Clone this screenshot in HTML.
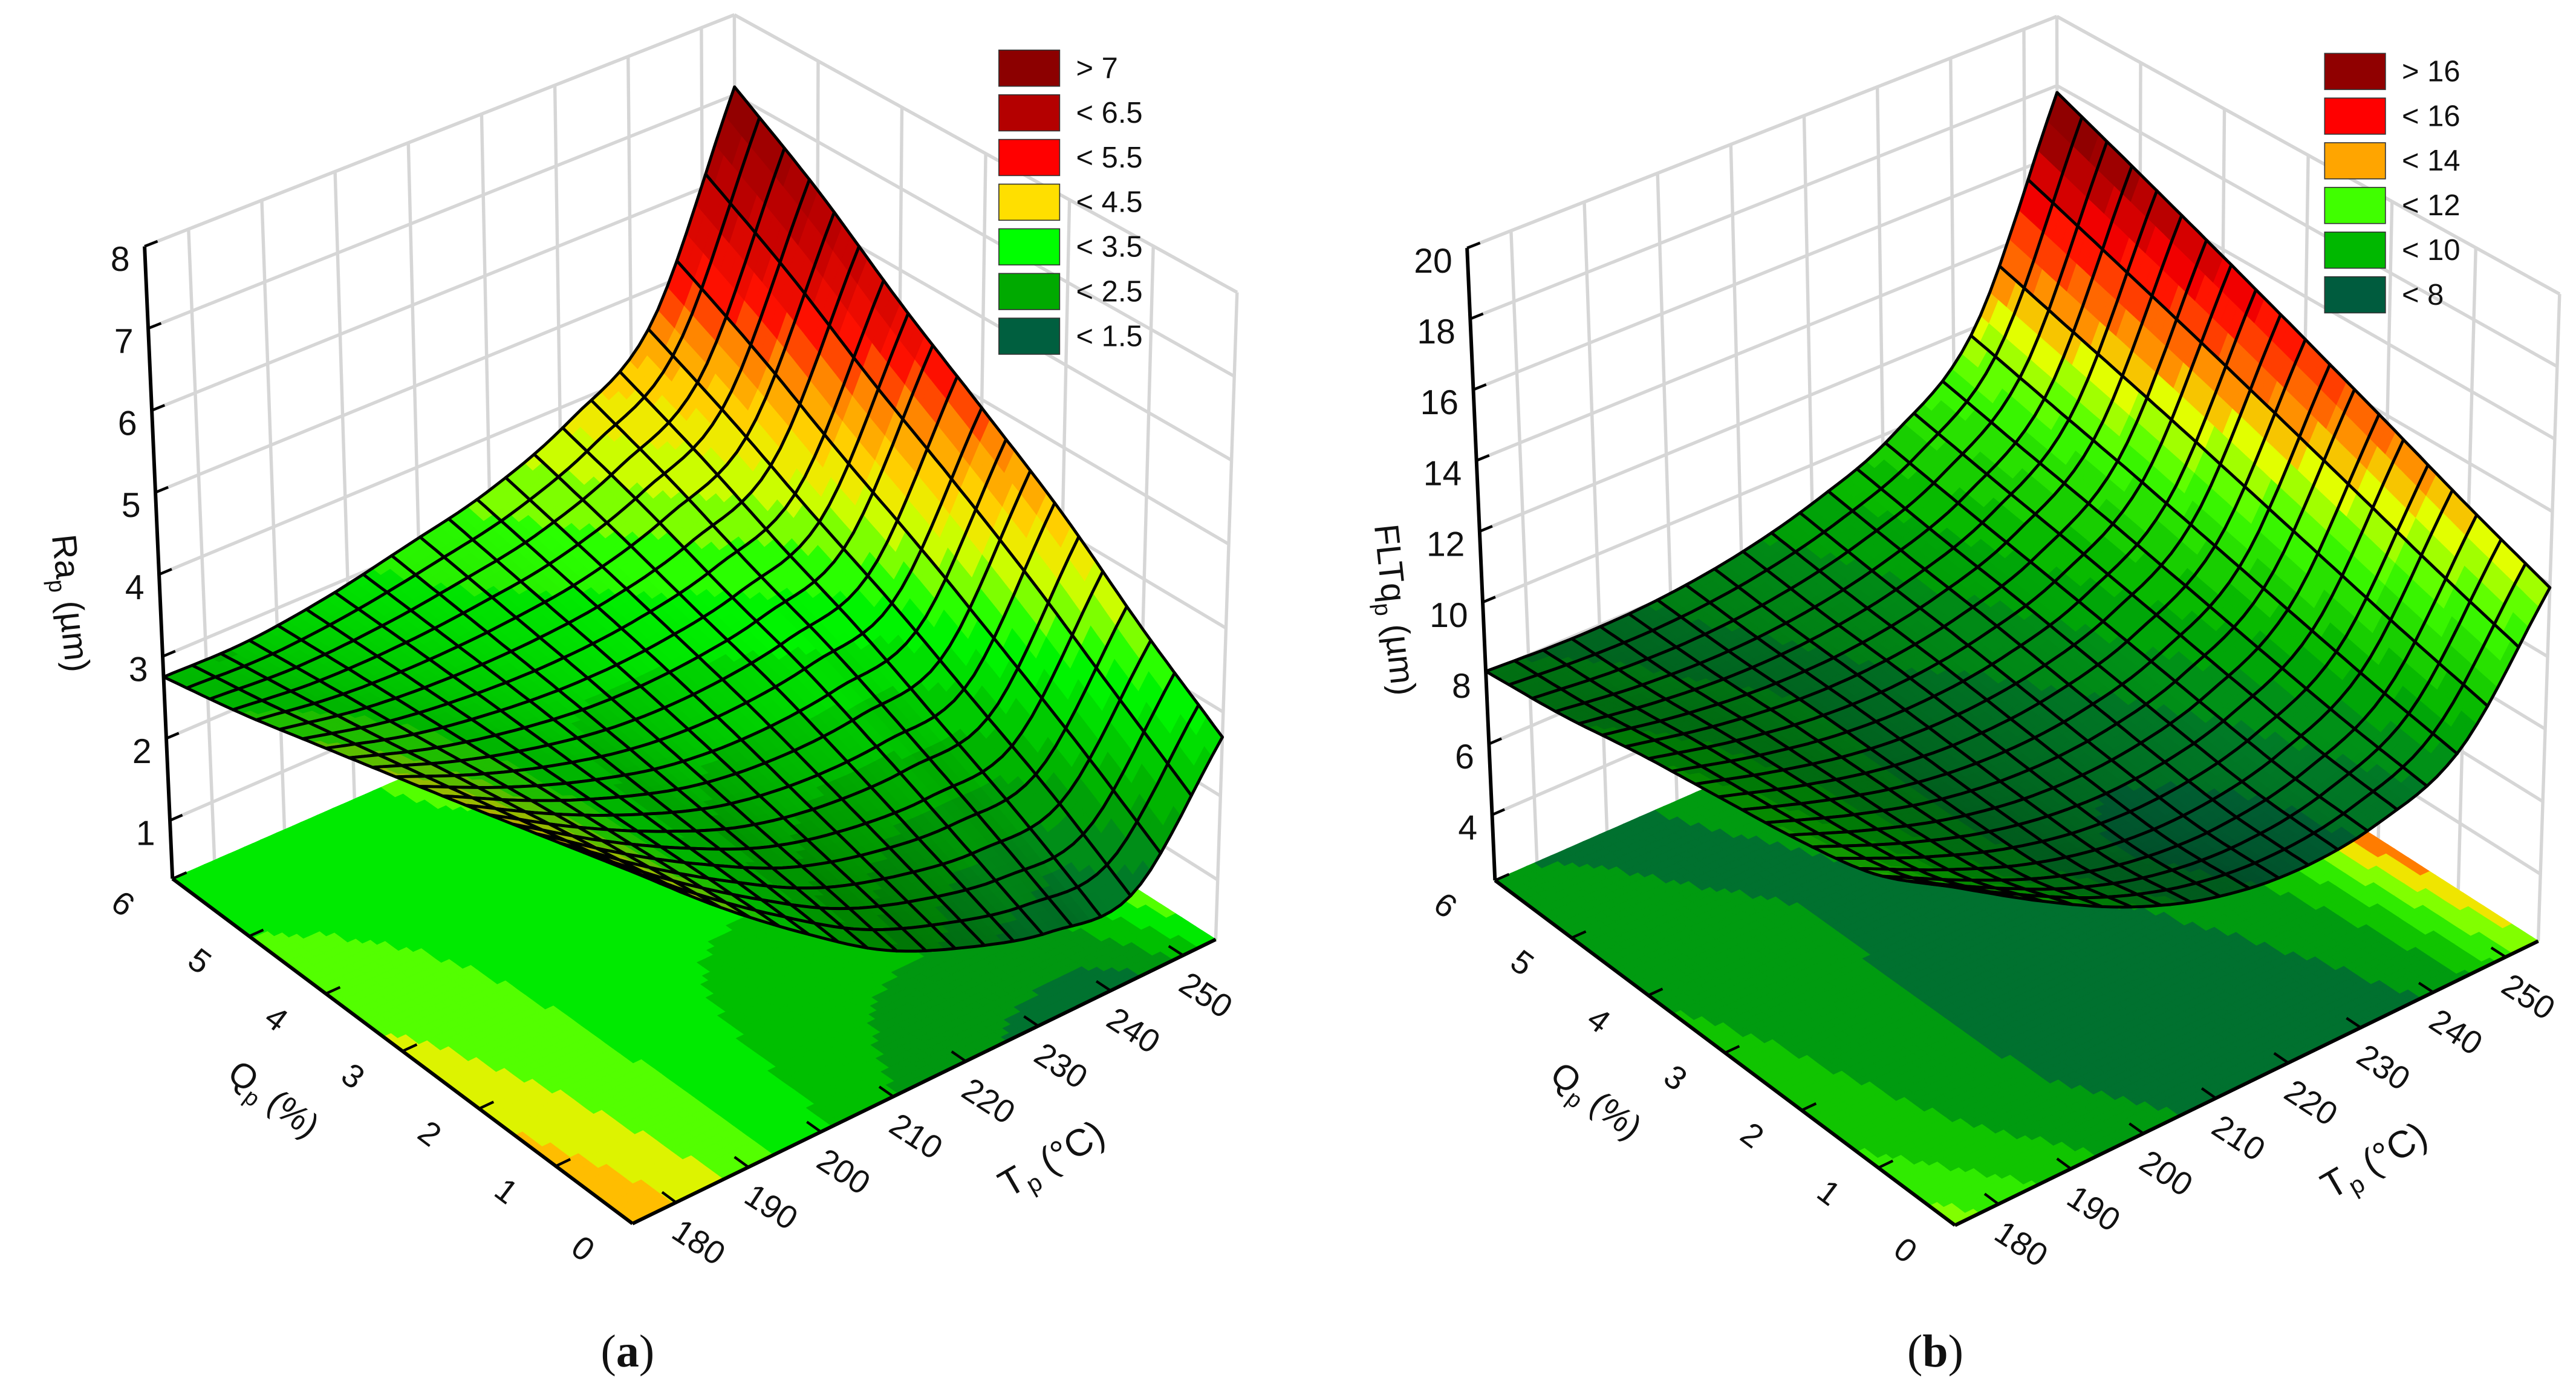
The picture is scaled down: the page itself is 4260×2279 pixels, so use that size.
<!DOCTYPE html>
<html><head><meta charset="utf-8"><title>Response surfaces Ra_p and FLTq_p</title>
<style>
html,body{margin:0;padding:0;background:#fff;}
#fig{display:block;width:4260px;height:2279px;}
text{font-family:"Liberation Sans",sans-serif;fill:#111;}
</style></head>
<body>
<svg id="fig" xmlns="http://www.w3.org/2000/svg" viewBox="0 0 1568 839" preserveAspectRatio="none" width="4260" height="2279">
  <rect x="0" y="0" width="1568" height="839" fill="#fff"/>
  <g id="panelA"></g>
  <g id="panelB"></g>
  <text x="382" y="832" font-size="28" text-anchor="middle" style="font-family:'Liberation Serif',serif">(<tspan font-weight="bold">a</tspan>)</text>
  <text x="1178" y="832" font-size="28" text-anchor="middle" style="font-family:'Liberation Serif',serif">(<tspan font-weight="bold">b</tspan>)</text>
</svg>
<script>
// ---------- data ----------
const qTicks = [0, 1, 2, 3, 4, 5, 6];
const tTicks = [180, 190, 200, 210, 220, 230, 240, 250];
const gridQ = [0, 1, 2, 3, 4, 5, 6];
const gridT = [174, 185.5, 197, 208.5, 220, 231.5, 243, 254.5];
// Ra_p (µm) surface values, one row per Q
const raQ0 = [4.5, 3.6, 2.8, 2.1, 1.65, 1.35, 1.35, 2.7];
const raQ1 = [4.2, 3.46, 2.82, 2.28, 1.96, 1.81, 1.96, 3.4];
const raQ2 = [3.9, 3.32, 2.83, 2.45, 2.27, 2.27, 2.5, 4.2];
const raQ3 = [3.6, 3.18, 2.85, 2.63, 2.58, 2.7, 3.05, 4.9];
const raQ4 = [3.3, 3.03, 2.87, 2.8, 2.85, 3.05, 3.55, 5.6];
const raQ5 = [3.0, 2.89, 2.88, 2.95, 3.1, 3.45, 4.1, 6.4];
const raQ6 = [2.75, 2.75, 2.88, 3.1, 3.35, 3.8, 4.6, 7.1];
// FLTq_p (µm) surface values, one row per Q
const flQ0 = [11.5, 10.0, 8.7, 7.8, 7.4, 7.6, 8.6, 11.9];
const flQ1 = [10.3, 9.12, 8.13, 7.52, 7.38, 7.8, 9.08, 12.8];
const flQ2 = [9.7, 8.76, 8.01, 7.6, 7.62, 8.18, 9.64, 13.8];
const flQ3 = [9.3, 8.57, 8.01, 7.78, 7.94, 8.61, 10.23, 14.8];
const flQ4 = [8.9, 8.37, 8.02, 7.96, 8.27, 9.04, 10.83, 15.8];
const flQ5 = [8.4, 8.09, 7.96, 8.09, 8.55, 9.45, 11.4, 16.8];
const flQ6 = [8.05, 7.95, 8.0, 8.3, 8.9, 9.9, 12.0, 17.8];
const raZTicks = [1, 2, 3, 4, 5, 6, 7, 8];
const flZTicks = [4, 6, 8, 10, 12, 14, 16, 18, 20];
const raLegendLabels = ["> 7", "< 6.5", "< 5.5", "< 4.5", "< 3.5", "< 2.5", "< 1.5"];
const raLegendColors = ["#8c0000", "#b40000", "#ff0000", "#ffdf00", "#00ff00", "#00aa00", "#005f3f"];
const flLegendLabels = ["> 16", "< 16", "< 14", "< 12", "< 10", "< 8"];
const flLegendColors = ["#900000", "#ff0000", "#ffa500", "#40ff00", "#00b800", "#005c3e"];

// ---------- helpers ----------
const NS = "http://www.w3.org/2000/svg";
function mk(tag, parent, attrs) {
  const e = document.createElementNS(NS, tag);
  for (const k in attrs) e.setAttribute(k, attrs[k]);
  parent.appendChild(e);
  return e;
}
function bil(a00, a10, a01, a11, q, t) {
  return [a00[0]*(1-q)*(1-t) + a10[0]*q*(1-t) + a01[0]*(1-q)*t + a11[0]*q*t,
          a00[1]*(1-q)*(1-t) + a10[1]*q*(1-t) + a01[1]*(1-q)*t + a11[1]*q*t];
}
function makeProj(ox, oy) {
  const F00=[385,745], F10=[105,535], F01=[740,572], F11=[448,385];
  const T00=[383,352], T10=[88,150], T01=[753,178], T11=[447,9];
  return function(q, t, h) {
    const b = bil(F00, F10, F01, F11, q, t), u = bil(T00, T10, T01, T11, q, t);
    return [ox + b[0] + (u[0]-b[0])*h, oy + b[1] + (u[1]-b[1])*h];
  };
}
const T0 = gridT[0], T1 = gridT[gridT.length-1];
function tFrac(T) { return (T - T0) / (T1 - T0); }
function cr(p0, p1, p2, p3, s) {
  return 0.5*((2*p1) + (-p0+p2)*s + (2*p0-5*p1+4*p2-p3)*s*s + (-p0+3*p1-3*p2+p3)*s*s*s);
}
function getv(arr, i) {
  const n = arr.length;
  if (i < 0) return 2*arr[0] - arr[1];
  if (i >= n) return 2*arr[n-1] - arr[n-2];
  return arr[i];
}
function interp1(arr, v) {
  let i = Math.floor(v); if (i > arr.length-2) i = arr.length-2; if (i < 0) i = 0;
  const s = v - i;
  return cr(getv(arr,i-1), getv(arr,i), getv(arr,i+1), getv(arr,i+2), s);
}
function sample(rows, q, t) {
  const u = q*(gridQ.length-1), v = t*(gridT.length-1);
  const col = rows.map(r => interp1(r, v));
  return interp1(col, u);
}
function hex(c) { return [parseInt(c.substr(1,2),16), parseInt(c.substr(3,2),16), parseInt(c.substr(5,2),16)]; }
function palColor(anch, val, shade) {
  let c;
  if (val <= anch[0][0]) c = hex(anch[0][1]);
  else if (val >= anch[anch.length-1][0]) c = hex(anch[anch.length-1][1]);
  else {
    for (let k = 0; k < anch.length-1; k++) {
      if (val >= anch[k][0] && val <= anch[k+1][0]) {
        const f = (val - anch[k][0]) / (anch[k+1][0] - anch[k][0]);
        const a = hex(anch[k][1]), b = hex(anch[k+1][1]);
        c = [a[0]+(b[0]-a[0])*f, a[1]+(b[1]-a[1])*f, a[2]+(b[2]-a[2])*f];
        break;
      }
    }
  }
  return "rgb(" + c.map(x => Math.max(0, Math.min(255, Math.round(x*shade)))).join(",") + ")";
}
function pts(arr) { return arr.map(p => p[0].toFixed(1) + "," + p[1].toFixed(1)).join(" "); }

// ---------- panel builder ----------
function buildPanel(g, cfg) {
  const P = makeProj(cfg.ox, cfg.oy);
  const zr = cfg.zmax - cfg.zmin;
  const H = z => (z - cfg.zmin) / zr;
  const grid = "#d6d6d6";

  const lw = mk("polygon", g, {points: pts([P(1,0,0),P(1,1,0),P(1,1,1),P(1,0,1)]), fill:"#fff"});
  
  
  const rw = mk("polygon", g, {points: pts([P(1,1,0),P(0,1,0),P(0,1,1),P(1,1,1)]), fill:"#fff"});
  
  
  const gl = [];
  tTicks.forEach(T => { const t = tFrac(T); gl.push([P(1,t,0), P(1,t,1)]); });
  for (let k = 0; k <= 6; k++) { const q = k/6; gl.push([P(q,1,0), P(q,1,1)]); }
  cfg.zTicks.forEach(z => { const h = H(z); gl.push([P(1,0,h), P(1,1,h)]); gl.push([P(1,1,h), P(0,1,h)]); });
  gl.push([P(1,0,1), P(1,1,1)]); gl.push([P(1,1,1), P(0,1,1)]);
  gl.forEach(s => {
    const l = mk("line", g, {x1:s[0][0], y1:s[0][1], x2:s[1][0], y2:s[1][1], stroke:grid, "stroke-width":2});
    
    
  });

  const M = 70;
  for (let i = 0; i < M; i++) for (let j = 0; j < M; j++) {
    const q0 = i/M, q1 = (i+1)/M, t0 = j/M, t1 = (j+1)/M;
    const v = sample(cfg.rows, (q0+q1)/2, (t0+t1)/2);
    const vq = (Math.floor(v / cfg.floorStep) + 0.5) * cfg.floorStep;
    const col = palColor(cfg.anchors, vq, 1);
    const f = mk("polygon", g, {points: pts([P(q0,t0,0),P(q1,t0,0),P(q1,t1,0),P(q0,t1,0)]), fill:col, stroke:col, "stroke-width":0.6});
    
    
  }

  const axes = [[P(1,0,0),P(0,0,0)], [P(0,0,0),P(0,1,0)], [P(1,0,0),P(1,0,1)]];
  axes.forEach(s => {
    const l = mk("line", g, {x1:s[0][0], y1:s[0][1], x2:s[1][0], y2:s[1][1], stroke:"#000", "stroke-width":2.2});
    
    
  });
  qTicks.forEach(Q => {
    const q = Q/6, a = P(q,0,0), b = P(q,0.025,0);
    const l = mk("line", g, {x1:a[0], y1:a[1], x2:b[0], y2:b[1], stroke:"#000", "stroke-width":1.6});
    
    
    const x = a[0]-30, y = a[1]+15;
    const tx = mk("text", g, {x:x, y:y+7, "font-size":20, "text-anchor":"middle", transform:"rotate(37 "+x+" "+y+")"});
    tx.textContent = String(Q);
    
    
  });
  tTicks.forEach(T => {
    const t = tFrac(T), a = P(0,t,0), b = P(0.03,t,0);
    const l = mk("line", g, {x1:a[0], y1:a[1], x2:b[0], y2:b[1], stroke:"#000", "stroke-width":1.6});
    
    
    const x = a[0]+14, y = a[1]+24;
    const tx = mk("text", g, {x:x, y:y+7, "font-size":20, "text-anchor":"middle", transform:"rotate(33 "+x+" "+y+")"});
    tx.textContent = String(T);
    
    
  });
  cfg.zTicks.forEach(z => {
    const h = H(z), a = P(1,0,h), b = P(1,0.022,h);
    const l = mk("line", g, {x1:a[0], y1:a[1], x2:b[0], y2:b[1], stroke:"#000", "stroke-width":1.6});
    
    
    const tx = mk("text", g, {x:a[0]-9, y:a[1]+15, "font-size":21, "text-anchor":"end"});
    tx.textContent = String(z);
    
    
  });

  const N = 20, S = 3, R = N*S;
  const Z = [], PP = [];
  for (let i = 0; i <= R; i++) { Z.push([]); PP.push([]);
    for (let j = 0; j <= R; j++) { const z = sample(cfg.rows, i/R, j/R); Z[i].push(z); PP[i].push(P(i/R, j/R, H(z))); } }
  const L = [-0.62, -0.62, 0.48]; const ln = Math.hypot(L[0],L[1],L[2]);
  const cells = [];
  for (let a = 0; a < N; a++) for (let b = 0; b < N; b++) cells.push([a,b]);
  cells.sort((m, n) => (n[0]+n[1]) - (m[0]+m[1]) || (n[0]-m[0]));
  cells.forEach(c => {
    const a = c[0], b = c[1];
    for (let sa = 0; sa < S; sa++) for (let sb = 0; sb < S; sb++) {
      const i = a*S+sa, j = b*S+sb;
      const z = (Z[i][j]+Z[i+1][j]+Z[i][j+1]+Z[i+1][j+1])/4;
      const dq = ((Z[i+1][j]+Z[i+1][j+1]) - (Z[i][j]+Z[i][j+1]))/2 / zr * 1.1 * R;
      const dt = ((Z[i][j+1]+Z[i+1][j+1]) - (Z[i][j]+Z[i+1][j]))/2 / zr * 1.1 * R;
      const nl = Math.hypot(dq, dt, 1);
      const dot = (-dq*L[0] - dt*L[1] + L[2]) / (nl*ln);
      const shade = Math.max(0.74, Math.min(1.0, 0.55 + 0.6*Math.max(0, dot)));
      const zq = (Math.floor(z / cfg.surfStep) + 0.5) * cfg.surfStep;
      const col = palColor(cfg.anchors, zq, shade);
      const sc = mk("polygon", g, {points: pts([PP[i][j],PP[i+1][j],PP[i+1][j+1],PP[i][j+1]]), fill:col, stroke:col, "stroke-width":0.6});
      
      
    }
    const outline = [];
    for (let k = 0; k <= S; k++) outline.push(PP[a*S+k][b*S]);
    for (let k = 1; k <= S; k++) outline.push(PP[a*S+S][b*S+k]);
    for (let k = S-1; k >= 0; k--) outline.push(PP[a*S+k][b*S+S]);
    for (let k = S-1; k >= 1; k--) outline.push(PP[a*S][b*S+k]);
    const ol = mk("polygon", g, {points: pts(outline), fill:"none", stroke:"#000", "stroke-width":1.8, "stroke-linejoin":"round"});
    
    
  });

  const zt = mk("text", g, {x:cfg.zTitle[0], y:cfg.zTitle[1], "font-size":21, "text-anchor":"middle", transform:"rotate(84 "+cfg.zTitle[0]+" "+cfg.zTitle[1]+")"});
  zt.innerHTML = cfg.zName + '<tspan dy="5" font-size="14">p</tspan><tspan dy="-5"> (µm)</tspan>';
  
  
  const qt = mk("text", g, {x:cfg.ox+166, y:cfg.oy+676, "font-size":21, "text-anchor":"middle", transform:"rotate(37 "+(cfg.ox+166)+" "+(cfg.oy+670)+")"});
  qt.innerHTML = 'Q<tspan dy="5" font-size="14">p</tspan><tspan dy="-5"> (%)</tspan>';
  
  
  const tt = mk("text", g, {x:cfg.ox+641, y:cfg.oy+713, "font-size":23, "text-anchor":"middle", transform:"rotate(-30 "+(cfg.ox+641)+" "+(cfg.oy+707)+")"});
  tt.innerHTML = 'T<tspan dy="5" font-size="15">p</tspan><tspan dy="-5"> (°C)</tspan>';
  
  

  cfg.legLabels.forEach((lab, k) => {
    const y = cfg.legY + k*27.2;
    const r = mk("rect", g, {x:cfg.legX, y:y, width:37, height:22, fill:cfg.legColors[k], stroke:"#333", "stroke-width":0.6});
    
    
    const tx = mk("text", g, {x:cfg.legX+47, y:y+17, "font-size":18});
    tx.textContent = lab;
    
    
  });
}

const raAnchors = [[1.0,"#005f3f"],[2.0,"#00aa00"],[3.0,"#00ff00"],[3.6,"#c8ff00"],[4.0,"#ffe000"],[4.6,"#ff8c00"],[5.1,"#ff1000"],[6.0,"#c00000"],[7.0,"#8c0000"]];
const flAnchors = [[7.0,"#005c3e"],[9.0,"#00b000"],[11.0,"#40ff00"],[12.3,"#e8ff00"],[13.0,"#ffa500"],[15.0,"#ff0000"],[17.0,"#900000"]];

buildPanel(document.getElementById("panelA"), {
  ox:0, oy:0, zmin:0.29, zmax:8,
  rows:[raQ0, raQ1, raQ2, raQ3, raQ4, raQ5, raQ6],
  zTicks:raZTicks, anchors:raAnchors, floorStep:0.5, surfStep:0.25,
  zTitle:[36,368], zName:"Ra",
  legLabels:raLegendLabels, legColors:raLegendColors, legX:608, legY:30.5
});
buildPanel(document.getElementById("panelB"), {
  ox:805, oy:1, zmin:2.15, zmax:20,
  rows:[flQ0, flQ1, flQ2, flQ3, flQ4, flQ5, flQ6],
  zTicks:flZTicks, anchors:flAnchors, floorStep:1.0, surfStep:0.5,
  zTitle:[842,372], zName:"FLTq",
  legLabels:flLegendLabels, legColors:flLegendColors, legX:1415, legY:32.5
});
</script>
</body></html>
